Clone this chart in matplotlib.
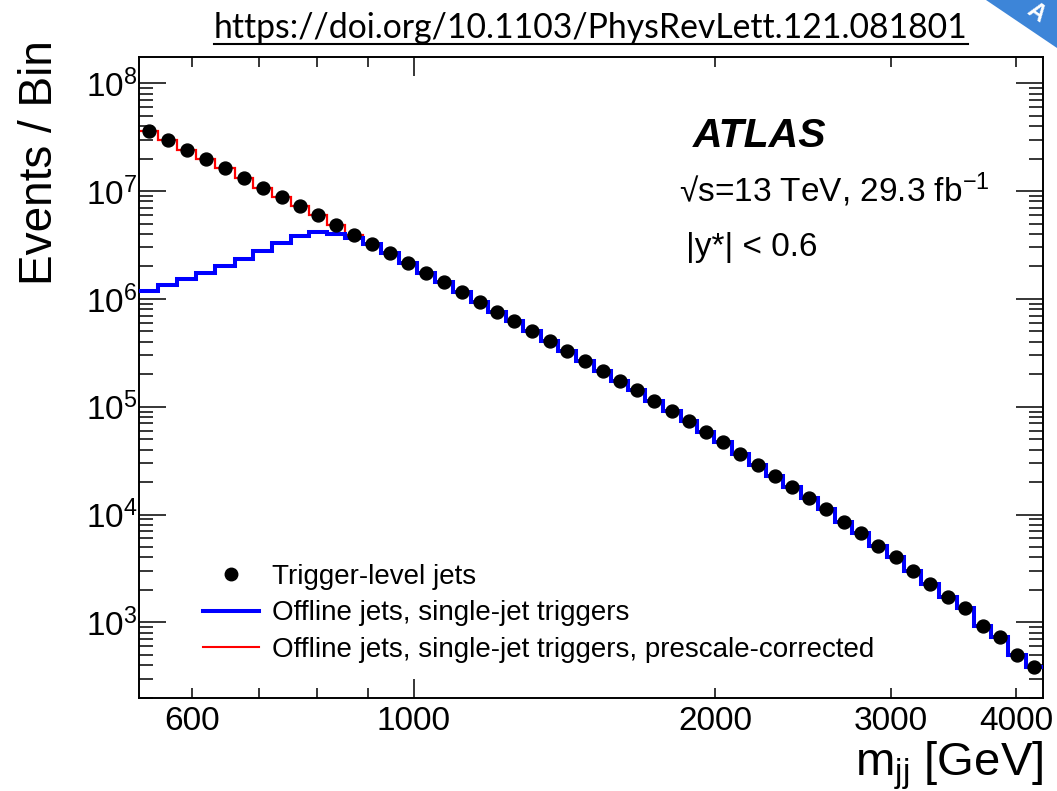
import numpy as np
import matplotlib
matplotlib.use('Agg')
import matplotlib.pyplot as plt
from matplotlib.ticker import FixedLocator, FixedFormatter, LogLocator, LogFormatterMathtext, NullFormatter
from matplotlib.lines import Line2D
from matplotlib.patches import Polygon

plt.rcParams['font.family'] = ['Liberation Sans', 'DejaVu Sans']
plt.rcParams['mathtext.default'] = 'regular'

# m_jj bin edges [GeV]
mjj_edges = [531, 555, 580, 606, 633, 662, 691, 722, 753, 785,
             819, 853, 889, 926, 966, 1006, 1050, 1093, 1140, 1187,
             1236, 1284, 1339, 1394, 1452, 1514, 1574, 1638, 1702, 1773,
             1849, 1920, 1995, 2078, 2163, 2249, 2341, 2436, 2533, 2636,
             2744, 2854, 2974, 3093, 3214, 3350, 3489, 3631, 3776, 3929,
             4089, 4256]

# trigger-level jets (points)
trigger_jets = [3.61e7, 2.95e7, 2.41e7, 1.98e7, 1.62e7, 1.32e7, 1.07e7, 8.8e6, 7.3e6, 6.0e6,
                4.85e6, 3.9e6, 3.23e6, 2.65e6, 2.17e6, 1.75e6, 1.44e6, 1.17e6, 9.4e5, 7.6e5,
                6.2e5, 5.0e5, 4.1e5, 3.3e5, 2.67e5, 2.16e5, 1.74e5, 1.43e5, 1.14e5, 9.1e4,
                7.3e4, 5.8e4, 4.7e4, 3.65e4, 2.9e4, 2.28e4, 1.79e4, 1.41e4, 1.12e4, 8.6e3,
                6.7e3, 5.1e3, 4.05e3, 3.0e3, 2.27e3, 1.73e3, 1.35e3, 930, 726, 497,
                388]

# offline jets, single-jet triggers (blue)
offline_jets = [1.18e6, 1.35e6, 1.53e6, 1.74e6, 2.0e6, 2.36e6, 2.78e6, 3.3e6, 3.85e6, 4.13e6,
                4.02e6, 3.67e6, 3.2e6, 2.65e6, 2.17e6, 1.75e6, 1.44e6, 1.17e6, 9.4e5, 7.6e5,
                6.2e5, 5.0e5, 4.1e5, 3.3e5, 2.67e5, 2.16e5, 1.74e5, 1.43e5, 1.14e5, 9.1e4,
                7.3e4, 5.8e4, 4.7e4, 3.65e4, 2.9e4, 2.28e4, 1.79e4, 1.41e4, 1.12e4, 8.6e3,
                6.7e3, 5.1e3, 4.05e3, 3.0e3, 2.27e3, 1.73e3, 1.35e3, 930, 726, 497,
                388]

# offline jets, prescale-corrected (red), low mass bins only
offline_corrected = [3.61e7, 2.95e7, 2.41e7, 1.98e7, 1.62e7, 1.32e7, 1.07e7, 8.8e6, 7.3e6, 6.0e6,
                     4.85e6, 3.9e6, 3.23e6]

legend_labels = ['Trigger-level jets',
                 'Offline jets, single-jet triggers',
                 'Offline jets, single-jet triggers, prescale-corrected']

edges = np.array(mjj_edges, dtype=float)
centers = 0.5 * (edges[1:] + edges[:-1])

W, H = 1057, 791
fig = plt.figure(figsize=(W / 100, H / 100), dpi=100)
ax = fig.add_axes([139 / W, 1 - 698 / H, 904 / W, 641 / H])

ax.stairs(offline_corrected, edges[:len(offline_corrected) + 1], baseline=None,
          color='#ff0000', lw=1.6, zorder=2)
ax.stairs(offline_jets, edges, baseline=None, color='#0000ff', lw=2.9, zorder=3)
ax.plot(centers, trigger_jets, 'o', color='black', ms=9.3, zorder=4)

ax.set_xscale('log')
ax.set_yscale('log')
ax.set_xlim(531, 4256)
ax.set_ylim(199, 1.75e8)

ax.xaxis.set_major_locator(FixedLocator([1000]))
ax.xaxis.set_major_formatter(FixedFormatter(['1000']))
ax.xaxis.set_minor_locator(FixedLocator([600, 700, 800, 900, 2000, 3000, 4000]))
ax.xaxis.set_minor_formatter(FixedFormatter(['600', '', '', '', '2000', '3000', '4000']))
ax.yaxis.set_major_locator(LogLocator(base=10, numticks=20))
ax.yaxis.set_major_formatter(LogFormatterMathtext())
ax.yaxis.set_minor_locator(LogLocator(base=10, subs=np.arange(2, 10), numticks=20))
ax.yaxis.set_minor_formatter(NullFormatter())

ax.tick_params(which='both', direction='in', top=True, right=True, width=1.1,
               labelsize=24, colors='black')
ax.tick_params(axis='x', which='major', length=13.7, pad=6)
ax.tick_params(axis='x', which='minor', length=7, pad=6)
ax.tick_params(axis='y', which='major', length=19.5, pad=1)
ax.tick_params(axis='y', which='minor', length=10)
for s in ax.spines.values():
    s.set_linewidth(1.4)

fig.text(40 / W, 1 - 40 / H, 'Events / Bin', rotation=90, ha='center', va='top', fontsize=33)
fig.text(1043 / W, 1 - 775 / H, '$m_{jj}$ [GeV]', ha='right', va='baseline', fontsize=34)

ax.text(0.6128, 0.859, 'ATLAS', transform=ax.transAxes, fontsize=29.5,
        fontweight='bold', fontstyle='italic', va='baseline')
ax.text(0.5975, 0.7743, '\u221as=13 TeV, 29.3 fb$^{-1}$', transform=ax.transAxes,
        fontsize=24, va='baseline')
ax.text(0.605, 0.690, '|y*| < 0.6', transform=ax.transAxes, fontsize=24, va='baseline')

handles = [Line2D([], [], marker='o', ls='none', color='black', ms=9),
           Line2D([], [], color='#0000ff', lw=2.9),
           Line2D([], [], color='#ff0000', lw=1.5)]
ax.legend(handles, legend_labels, loc='lower left',
          bbox_to_anchor=((203 - 139) / 904, (698 - 663) / 641),
          frameon=False, fontsize=20, handlelength=2.0, handletextpad=0.5,
          labelspacing=0.38, borderpad=0, borderaxespad=0, numpoints=1)

# header link, underlined
url = fig.text(591 / W, 1 - 38 / H, 'https://doi.org/10.1103/PhysRevLett.121.081801',
               ha='center', va='baseline', fontsize=22, family=['Lato', 'DejaVu Sans'])
fig.canvas.draw()
bb = url.get_window_extent()
url.set_fontsize(22 * 753 / bb.width)
fig.canvas.draw()
bb = url.get_window_extent()
fig.add_artist(Line2D([bb.x0 / W, bb.x1 / W], [1 - 44 / H, 1 - 44 / H],
                      transform=fig.transFigure, color='black', lw=1.5))

# corner ribbon
fig.patches.append(Polygon([[986 / W, 1.0], [1.0, 1.0], [1.0, 1 - 48 / H]],
                           closed=True, transform=fig.transFigure,
                           facecolor='#3d85d8', edgecolor='none'))
fig.text(1036 / W, 1 - 13 / H, 'A', color='white', fontsize=17, fontweight='bold',
         rotation=-35, ha='center', va='center')

fig.savefig('out.png', dpi=100)
